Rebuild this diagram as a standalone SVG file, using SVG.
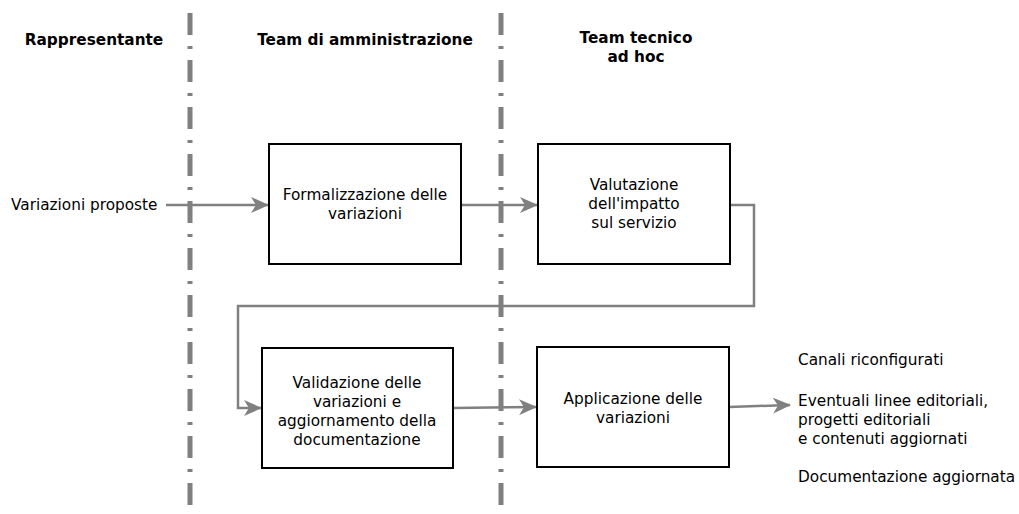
<svg xmlns="http://www.w3.org/2000/svg" width="1019" height="514" viewBox="0 0 1019 514">
<style>
text{font-family:"DejaVu Sans","Liberation Sans",sans-serif;font-size:15.3px;fill:#000}
.h{font-weight:bold}
.c{text-anchor:middle}
.lane{stroke:#808080;stroke-width:5;stroke-dasharray:22 11 3 11;fill:none}
.box{fill:#fff;stroke:#000;stroke-width:2}
.con{fill:none;stroke:#808080;stroke-width:2.5}
</style>
<defs>
<marker id="ah" markerWidth="18" markerHeight="16" refX="17" refY="8" orient="auto" markerUnits="userSpaceOnUse">
<path d="M0,0 L18,8 L0,16 L5,8 Z" fill="#808080"/>
</marker>
</defs>
<g id="lanes">
<line class="lane" x1="190" y1="13" x2="190" y2="514"/>
<line class="lane" x1="501" y1="13" x2="501" y2="514"/>
</g>
<g id="headers">
<text class="h c" x="94" y="45">Rappresentante</text>
<text class="h c" x="365" y="45">Team di amministrazione</text>
<text class="h c" x="636" y="43">Team tecnico</text>
<text class="h c" x="636" y="62">ad hoc</text>
</g>
<g id="connectors">
<line class="con" x1="166" y1="205" x2="268" y2="205" marker-end="url(#ah)"/>
<line class="con" x1="461" y1="205" x2="537" y2="205" marker-end="url(#ah)"/>
<polyline class="con" points="730,205 754,205 754,306 238,306 238,408 261,408" marker-end="url(#ah)"/>
<line class="con" x1="453" y1="408" x2="536" y2="407" marker-end="url(#ah)"/>
<line class="con" x1="729" y1="407" x2="790" y2="405" marker-end="url(#ah)"/>
</g>
<g id="input">
<text x="11" y="210">Variazioni proposte</text>
</g>
<g id="formalizzazione">
<rect class="box" x="269" y="144" width="192" height="120"/>
<text class="c" x="365" y="200">Formalizzazione delle</text>
<text class="c" x="365" y="219">variazioni</text>
</g>
<g id="valutazione">
<rect class="box" x="538" y="144" width="192" height="120"/>
<text class="c" x="634" y="190">Valutazione</text>
<text class="c" x="634" y="209">dell'impatto</text>
<text class="c" x="634" y="228">sul servizio</text>
</g>
<g id="validazione">
<rect class="box" x="262" y="348" width="191" height="120"/>
<text class="c" x="357" y="388">Validazione delle</text>
<text class="c" x="357" y="407">variazioni e</text>
<text class="c" x="357" y="426">aggiornamento della</text>
<text class="c" x="357" y="445">documentazione</text>
</g>
<g id="applicazione">
<rect class="box" x="537" y="347" width="192" height="120"/>
<text class="c" x="633" y="404">Applicazione delle</text>
<text class="c" x="633" y="423">variazioni</text>
</g>
<g id="output">
<text x="798" y="365">Canali riconfigurati</text>
<text x="798" y="406">Eventuali linee editoriali,</text>
<text x="798" y="425">progetti editoriali</text>
<text x="798" y="444">e contenuti aggiornati</text>
<text x="798" y="482">Documentazione aggiornata</text>
</g>
</svg>
